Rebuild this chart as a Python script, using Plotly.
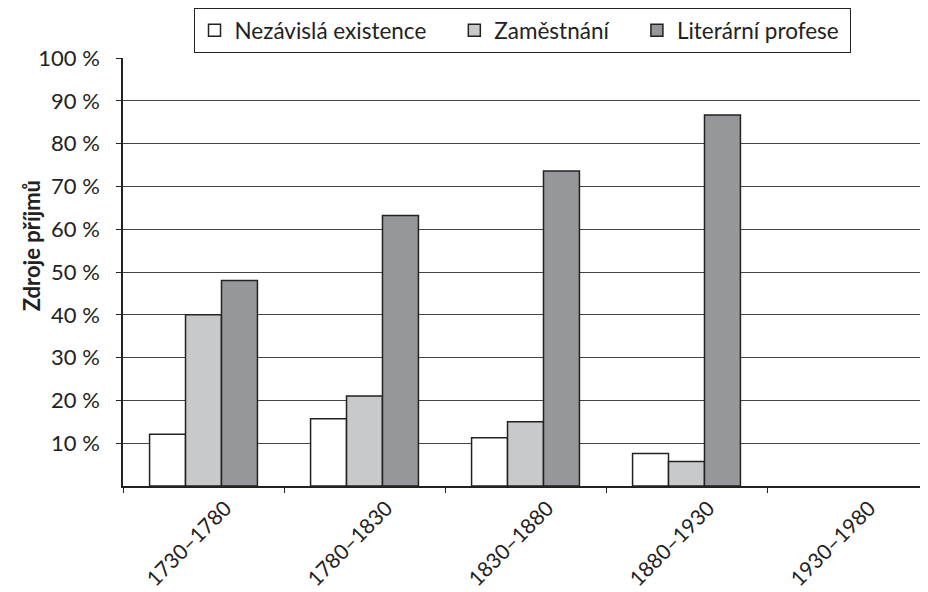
import plotly.graph_objects as go

# ! Data
obdobi = ['1730–1780', '1780–1830', '1830–1880', '1880–1930', '1930–1980']
nezavisla = [12.1, 15.7, 11.3, 7.6, None]
zamestnani = [40.0, 21.0, 15.0, 5.7, None]
literarni = [48.0, 63.2, 73.6, 86.7, None]
y_ticks = [10, 20, 30, 40, 50, 60, 70, 80, 90, 100]
y_labels = ['{} %'.format(v) for v in y_ticks]

font_family = "Lato, 'Open Sans', sans-serif"
outline = dict(color='#222222', width=1.5)
pad = '\u00a0' * 4  # extra room between legend entries

fig = go.Figure()
fig.add_bar(x=obdobi, y=nezavisla, name='Nezávislá existence' + pad,
            marker=dict(color='#ffffff', line=outline))
fig.add_bar(x=obdobi, y=zamestnani, name='Zaměstnání' + pad,
            marker=dict(color='#c8c9cb', line=outline))
fig.add_bar(x=obdobi, y=literarni, name='Literární profese\u00a0',
            marker=dict(color='#96979b', line=outline))

# page body has an 8px margin, so the figure is 920x584 and shifted
fig.update_layout(width=920, height=584,
                  margin=dict(l=115, r=0, t=50, b=106, autoexpand=False),
                  plot_bgcolor='white', paper_bgcolor='white',
                  font=dict(family=font_family, size=22, color='#222222'),
                  barmode='group', bargap=0.33, bargroupgap=0,
                  showlegend=True,
                  legend=dict(orientation='h', xref='container', yref='container',
                              x=0.5587, xanchor='center',
                              y=1.0, yanchor='top',
                              bordercolor='#222222', borderwidth=1,
                              font=dict(size=22.5), itemwidth=30,
                              traceorder='normal'),
                  )
fig.add_annotation(text='<b>Zdroje příjmů</b>', textangle=-90,
                   xref='paper', yref='paper', x=-0.133, y=0.561,
                   showarrow=False, font=dict(size=22))
fig.update_xaxes(type='category', tickson='boundaries', automargin=False,
                 ticks='outside', ticklen=5, tickcolor='#222222',
                 tickangle=-45, ticklabelshift=22,
                 showline=True, linecolor='#222222', linewidth=1.5,
                 showgrid=False, tickfont=dict(size=21))
fig.update_yaxes(range=[0, 100], tickvals=y_ticks, ticktext=y_labels, automargin=False,
                 ticks='outside', ticklen=5, tickcolor='#222222',
                 ticklabelstandoff=12,
                 showline=True, linecolor='#222222', linewidth=1.5,
                 showgrid=True, gridcolor='#444444', gridwidth=1,
                 zeroline=False, tickfont=dict(size=22))

fig.write_html("out.html")
